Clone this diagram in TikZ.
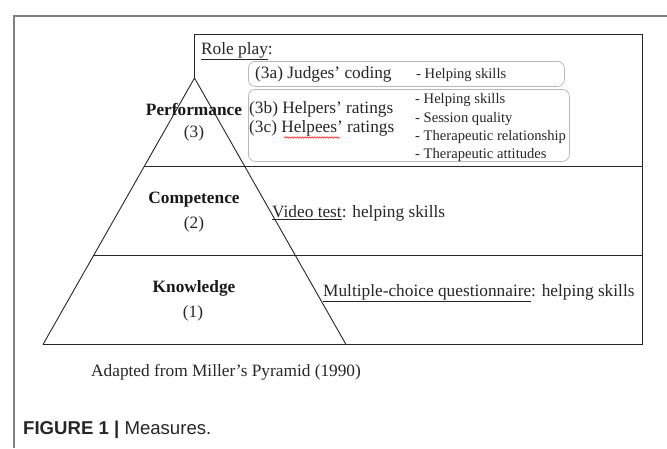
\documentclass[tikz,border=0pt]{standalone}
\usepackage{fontspec}
\setmainfont{Liberation Serif}
\setsansfont{Liberation Sans}
\usetikzlibrary{calc,decorations.pathmorphing}

\begin{document}
\begin{tikzpicture}[x=1pt,y=-1pt,
	txt/.style={inner sep=0pt, anchor=west, font=\fontsize{17.3}{19}\selectfont, text=black!85},
	small/.style={inner sep=0pt, anchor=west, font=\fontsize{14.6}{16}\selectfont, text=black!85},
	level/.style={inner sep=0pt, font=\fontsize{17.3}{19}\selectfont\bfseries, text=black!90},
	num/.style={inner sep=0pt, font=\fontsize{17.3}{19}\selectfont, text=black!85},
	subbox/.style={draw=black!28, rounded corners=7pt, line width=0.8pt, anchor=north west, inner sep=0pt},
	edge/.style={line width=0.9pt, black!85}]
		\useasboundingbox (0,0) rectangle (667,448);

		% frame of the figure
		\draw[black!50, line width=2pt] (14,448) -- (14,16) -- (667,16);

		% pyramid and table
		\coordinate (apex) at (194.5,78);
		\coordinate (baseL) at (43,344.5);
		\coordinate (baseR) at (346,344.5);
		\coordinate (topL) at (194.5,34);
		\coordinate (topR) at (642,34);
		\coordinate (botR) at (642,344.5);
		\coordinate (cut1) at ($(apex)!0.3308!(baseL)$);
		\coordinate (cut2) at ($(apex)!0.6654!(baseL)$);

		\draw[edge] (baseL) -- (apex) -- (baseR);
		\draw[edge] (apex) -- (topL) -- (topR) -- (botR) -- (baseL);
		\draw[edge] (cut1) -- (cut1 -| topR);
		\draw[edge] (cut2) -- (cut2 -| topR);

		% levels
		\node[level] (perf) at (194,109) {Performance};
		\node[num] (perfN) at (194,133) {(3)};
		\node[level] (comp) at (194,200) {Competence};
		\node[num] (compN) at (194,224) {(2)};
		\node[level] (know) at (194,288) {Knowledge};
		\node[num] (knowN) at (193,313) {(1)};

		% role play
		\node[txt] (role) at (201,51) {\underline{Role play}:};
		\node[subbox, minimum width=316pt, minimum height=25pt] (boxA) at (248,61) {};
		\node[subbox, minimum width=321pt, minimum height=72pt] (boxB) at (248,89) {};
		\node[txt] (judges) at (255,74) {(3a) Judges’ coding};
		\node[small] (judgesM) at (416,75) {- Helping skills};
		\node[txt] (helpers) at (249,109) {(3b) Helpers’ ratings};
		\node[txt] (helpees) at (249,128) {(3c) Helpees’ ratings};
		\draw[red, line width=0.5pt, decorate, decoration={snake, amplitude=0.7pt, segment length=2.5pt}] (284,137.5) -- (340,137.5);
		\node[small] (m1) at (415,100) {- Helping skills};
		\node[small] (m2) at (415,119) {- Session quality};
		\node[small] (m3) at (415,137) {- Therapeutic relationship};
		\node[small] (m4) at (415,155) {- Therapeutic attitudes};

		% other levels
		\node[txt] (video) at (272,213) {\underline{Video test}: helping skills};
		\node[txt] (mcq) at (323,293) {\underline{Multiple-choice questionnaire}: helping skills};

		% notes
		\node[txt] (adapted) at (91,372) {Adapted from Miller’s Pyramid (1990)};
		\node[inner sep=0pt, anchor=west, font=\sffamily\fontsize{18.6}{20}\selectfont, text=black!85] (caption) at (23,430) {\textbf{FIGURE 1 |} Measures.};
	\end{tikzpicture}
\end{document}
